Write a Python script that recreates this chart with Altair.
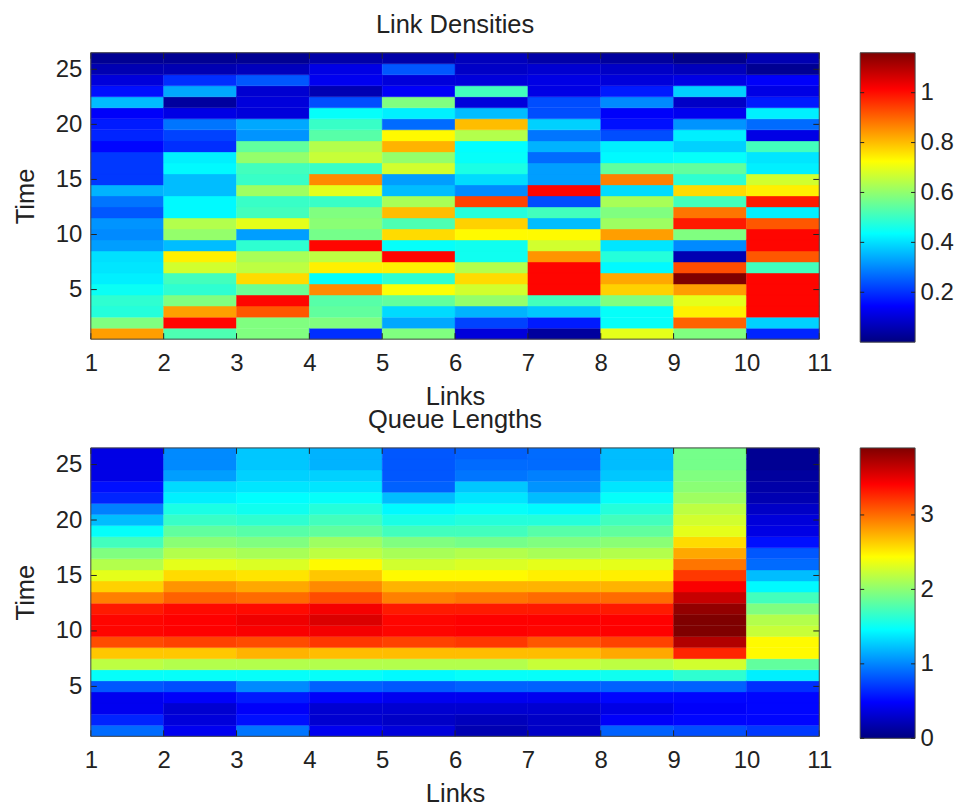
import altair as alt
import pandas as pd

# Readings are given as a share of each panel's colour range, bottom row (time 1) first.
DENSITY_MAX = 1.16
QUEUE_MAX = 3.9

density_columns = [
 [.72,.50,.41,.42,.385,.36,.35,.345,.28,.26,.27,.21,.24,.30,.18,.18,.18,.13,.16,.15,.12,.31,.14,.09,.05,.02],
 [.45,.87,.72,.50,.42,.44,.58,.64,.31,.52,.55,.37,.37,.31,.31,.37,.36,.17,.19,.24,.10,.03,.29,.17,.05,.02],
 [.50,.50,.79,.87,.48,.66,.56,.54,.42,.28,.60,.44,.43,.53,.43,.44,.52,.47,.27,.29,.09,.09,.08,.21,.06,.02],
 [.17,.50,.47,.46,.74,.38,.64,.56,.87,.49,.51,.50,.43,.60,.74,.43,.57,.55,.46,.43,.38,.20,.05,.11,.10,.04],
 [.50,.29,.34,.47,.62,.42,.64,.87,.38,.66,.45,.69,.54,.31,.28,.58,.52,.70,.63,.23,.36,.50,.12,.09,.21,.04],
 [.09,.19,.30,.52,.58,.66,.55,.39,.39,.63,.67,.41,.81,.26,.34,.40,.38,.375,.55,.69,.31,.09,.44,.09,.07,.06],
 [.03,.15,.32,.44,.87,.87,.87,.73,.58,.63,.31,.44,.20,.87,.28,.28,.23,.30,.24,.33,.20,.20,.10,.10,.08,.04],
 [.60,.38,.38,.50,.67,.71,.37,.41,.35,.72,.53,.50,.54,.34,.75,.47,.37,.36,.20,.14,.12,.26,.15,.09,.07,.03],
 [.50,.78,.64,.60,.72,1.0,.80,.05,.26,.50,.85,.76,.44,.66,.42,.47,.38,.33,.36,.27,.11,.07,.33,.10,.06,.01],
 [.16,.33,.87,.87,.87,.87,.44,.79,.87,.87,.79,.36,.85,.64,.58,.36,.35,.44,.10,.23,.36,.15,.10,.12,.02,.05],
]
queue_columns = [
 [.23,.16,.11,.11,.21,.38,.56,.68,.80,.87,.87,.85,.75,.67,.60,.55,.50,.44,.38,.31,.25,.16,.14,.10,.10,.10],
 [.11,.09,.08,.12,.20,.38,.55,.68,.81,.875,.875,.865,.78,.73,.66,.60,.55,.51,.47,.43,.40,.36,.34,.28,.26,.26],
 [.24,.14,.12,.15,.26,.38,.55,.70,.80,.88,.89,.865,.77,.71,.65,.59,.54,.50,.46,.42,.39,.375,.35,.33,.32,.32],
 [.11,.08,.08,.12,.22,.38,.55,.69,.82,.885,.91,.885,.80,.74,.68,.63,.56,.53,.47,.44,.41,.38,.35,.33,.30,.30],
 [.09,.07,.08,.11,.21,.37,.55,.69,.81,.87,.87,.85,.75,.70,.63,.58,.54,.50,.44,.40,.37,.31,.22,.21,.21,.21],
 [.05,.06,.08,.11,.22,.38,.55,.69,.82,.875,.875,.85,.76,.70,.63,.59,.55,.49,.44,.41,.38,.35,.32,.24,.23,.22],
 [.07,.07,.08,.11,.22,.38,.57,.69,.79,.87,.875,.85,.77,.70,.64,.60,.54,.50,.46,.41,.37,.31,.27,.25,.23,.23],
 [.22,.12,.10,.13,.22,.39,.56,.71,.81,.875,.875,.85,.77,.70,.64,.60,.55,.51,.47,.44,.41,.38,.35,.32,.31,.31],
 [.20,.13,.12,.13,.22,.42,.58,.84,.95,1.0,1.0,.98,.93,.88,.82,.76,.71,.66,.60,.58,.56,.53,.51,.50,.49,.49],
 [.18,.13,.13,.13,.17,.36,.47,.63,.63,.57,.55,.50,.44,.37,.31,.23,.21,.14,.10,.09,.07,.05,.04,.03,.02,.02],
]

link_ticks = [1, 2, 3, 4, 5, 6, 7, 8, 9, 10, 11]
time_ticks = [5, 10, 15, 20, 25]
density_bar_ticks = [0.2, 0.4, 0.6, 0.8, 1.0]
queue_bar_ticks = [0, 1, 2, 3]
jet_stops = [(0, "#00007f"), (.125, "#0000ff"), (.375, "#00ffff"), (.625, "#ffff00"), (.875, "#ff0000"), (1, "#7f0000")]

PANEL_W = 730
BAR_W = 55
FONT = "Liberation Sans"
INK = "#222222"
TICK = 6
LABEL_SIZE = 24
TITLE_SIZE = 25.5


def table(columns, peak):
    return pd.DataFrame([
        {"x0": i + 1, "x1": i + 2, "y0": j + 0.5, "y1": j + 1.5, "v": v * peak}
        for i, col in enumerate(columns) for j, v in enumerate(col)
    ])


def ticks_frame(values):
    return pd.DataFrame({"t": values})


def heat_panel(columns, peak, title, height):
    x = alt.X("x0:Q", scale=alt.Scale(domain=[1, 11], nice=False, zero=False),
              axis=alt.Axis(values=link_ticks, format="d", title="Links", tickSize=0, domain=False, grid=False,
                            labelFontSize=LABEL_SIZE, titleFontSize=TITLE_SIZE, labelFont=FONT, titleFont=FONT, titleFontWeight="normal",
                            labelColor=INK, titleColor=INK, labelPadding=12, titlePadding=9, labelFlush=False))
    y = alt.Y("y0:Q", scale=alt.Scale(domain=[0.5, 26.5], nice=False, zero=False),
              axis=alt.Axis(values=time_ticks, format="d", title="Time", tickSize=0, domain=False, grid=False,
                            labelFontSize=LABEL_SIZE, titleFontSize=TITLE_SIZE, labelFont=FONT, titleFont=FONT, titleFontWeight="normal",
                            labelColor=INK, titleColor=INK, labelPadding=9, titlePadding=17))
    jet = alt.Scale(domain=[s[0] * peak for s in jet_stops], range=[s[1] for s in jet_stops], interpolate="rgb")
    heat = alt.Chart(table(columns, peak)).mark_rect(strokeWidth=0.4).encode(
        x=x, x2="x1:Q", y=y, y2="y1:Q",
        color=alt.Color("v:Q", scale=jet, legend=None),
        stroke=alt.Stroke("v:Q", scale=jet, legend=None),
    )
    xt = ticks_frame(link_ticks)
    yt = ticks_frame(time_ticks)
    layers = [
        heat,
        alt.Chart(xt).mark_rule(color=INK).encode(x="t:Q", y=alt.value(height), y2=alt.value(height - TICK)),
        alt.Chart(xt).mark_rule(color=INK).encode(x="t:Q", y=alt.value(0), y2=alt.value(TICK)),
        alt.Chart(yt).mark_rule(color=INK).encode(y="t:Q", x=alt.value(0), x2=alt.value(TICK)),
        alt.Chart(yt).mark_rule(color=INK).encode(y="t:Q", x=alt.value(PANEL_W), x2=alt.value(PANEL_W - TICK)),
        alt.Chart(xt.head(1)).mark_rect(fill=None, stroke="#444444", strokeWidth=1).encode(
            x=alt.value(0), x2=alt.value(PANEL_W), y=alt.value(0), y2=alt.value(height)),
    ]
    return alt.layer(*layers).properties(
        width=PANEL_W, height=height,
        title=alt.TitleParams(title, font=FONT, fontSize=TITLE_SIZE, fontWeight="normal", color=INK, offset=14),
    )


def colour_bar(peak, tick_values, label_format, height):
    gradient = alt.LinearGradient(
        gradient="linear", x1=0, x2=0, y1=1, y2=0,
        stops=[alt.GradientStop(color=c, offset=o) for o, c in jet_stops],
    )
    extent = pd.DataFrame({"lo": [0.0], "hi": [peak]})
    y = alt.Y("lo:Q", scale=alt.Scale(domain=[0, peak], nice=False, zero=False),
              axis=alt.Axis(values=tick_values, format=label_format, orient="right", title=None, tickSize=0, domain=False,
                            grid=False, labelFontSize=LABEL_SIZE, labelFont=FONT, labelColor=INK, labelPadding=5, labelFlush=False))
    bt = ticks_frame(tick_values)
    layers = [
        alt.Chart(extent).mark_rect(fill=gradient, stroke="#444444", strokeWidth=1).encode(
            x=alt.value(0), x2=alt.value(BAR_W), y=y, y2="hi:Q"),
        alt.Chart(bt).mark_rule(color=INK).encode(y="t:Q", x=alt.value(0), x2=alt.value(4)),
        alt.Chart(bt).mark_rule(color=INK).encode(y="t:Q", x=alt.value(BAR_W), x2=alt.value(BAR_W - 4)),
    ]
    return alt.layer(*layers).properties(width=BAR_W, height=height)


chart = alt.concat(
    heat_panel(density_columns, DENSITY_MAX, "Link Densities", 287),
    colour_bar(DENSITY_MAX, density_bar_ticks, ".1~f", 290),
    heat_panel(queue_columns, QUEUE_MAX, "Queue Lengths", 289),
    colour_bar(QUEUE_MAX, queue_bar_ticks, "d", 291),
    columns=2, spacing={"column": 41, "row": 106},
    bounds="flush",
).resolve_scale(color="independent", stroke="independent").properties(
    padding={"left": 5, "top": 4, "right": 0, "bottom": 10}
).configure_view(stroke=None)

chart.save("out.html", embed_options={"renderer": "svg", "actions": False})
